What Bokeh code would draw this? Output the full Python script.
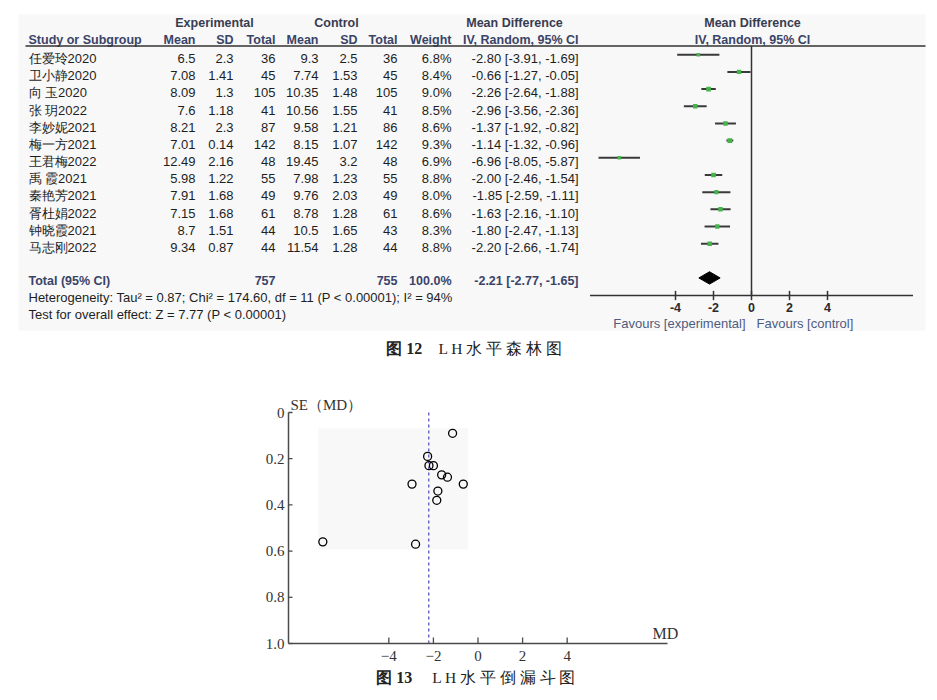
from bokeh.plotting import figure
from bokeh.models import Range1d
from bokeh.layouts import column
from bokeh.embed import file_html
from bokeh.resources import INLINE
from bokeh.core.properties import value

# ---------------- data ----------------
studies = ["任爱玲2020", "卫小静2020", "向 玉2020", "张 玥2022", "李妙妮2021", "梅一方2021",
           "王君梅2022", "禹 霞2021", "秦艳芳2021", "胥杜娟2022", "钟晓霞2021", "马志刚2022"]
exp_mean = [6.5, 7.08, 8.09, 7.6, 8.21, 7.01, 12.49, 5.98, 7.91, 7.15, 8.7, 9.34]
exp_sd = [2.3, 1.41, 1.3, 1.18, 2.3, 0.14, 2.16, 1.22, 1.68, 1.68, 1.51, 0.87]
exp_total = [36, 45, 105, 41, 87, 142, 48, 55, 49, 61, 44, 44]
ctl_mean = [9.3, 7.74, 10.35, 10.56, 9.58, 8.15, 19.45, 7.98, 9.76, 8.78, 10.5, 11.54]
ctl_sd = [2.5, 1.53, 1.48, 1.55, 1.21, 1.07, 3.2, 1.23, 2.03, 1.28, 1.65, 1.28]
ctl_total = [36, 45, 105, 41, 86, 142, 48, 55, 49, 61, 43, 44]
weight = [6.8, 8.4, 9.0, 8.5, 8.6, 9.3, 6.9, 8.8, 8.0, 8.6, 8.3, 8.8]
md = [-2.80, -0.66, -2.26, -2.96, -1.37, -1.14, -6.96, -2.00, -1.85, -1.63, -1.80, -2.20]
ci_low = [-3.91, -1.27, -2.64, -3.56, -1.92, -1.32, -8.05, -2.46, -2.59, -2.16, -2.47, -2.66]
ci_high = [-1.69, -0.05, -1.88, -2.36, -0.82, -0.96, -5.87, -1.54, -1.11, -1.10, -1.13, -1.74]
total_exp = 757
total_ctl = 755
total_weight = 100.0
pooled_md = -2.21
pooled_low = -2.77
pooled_high = -1.65
heterogeneity = "Heterogeneity: Tau² = 0.87; Chi² = 174.60, df = 11 (P < 0.00001); I² = 94%"
overall = "Test for overall effect: Z = 7.77 (P < 0.00001)"
forest_ticks = [-4, -2, 0, 2, 4]
se_md = [0.57, 0.31, 0.19, 0.31, 0.28, 0.09, 0.56, 0.23, 0.38, 0.27, 0.34, 0.23]
funnel_xticks = [-4, -2, 0, 2, 4]
funnel_yticks = [0, 0.2, 0.4, 0.6, 0.8, 1.0]
funnel_ytick_labels = ["0", "0.2", "0.4", "0.6", "0.8", "1.0"]

# ---------------- layout constants ----------------
W = 937
FH = 368
GH = 700 - FH
ROW_PX = 17.18
ROW0_PX = 58.0
ZERO_PX = 751.0
UNIT_PX = 19.0
MK_OFF = 0.22
SANS = value("Liberation Sans")
SERIF = value("Liberation Serif")
DARK = "#1e1e1e"
HEAD = "#383c50"
NAVY = "#3a4468"


def row_of(px):
    return (px - ROW0_PX) / ROW_PX


rows = list(range(len(studies)))
mrows = [r - MK_OFF for r in rows]

p = figure(width=W, height=FH, x_range=Range1d(0, W),
           y_range=Range1d(row_of(FH), row_of(0)),
           x_axis_location=None, y_axis_location=None,
           output_backend="svg", toolbar_location=None,
           min_border=0, outline_line_color=None)
p.grid.visible = False
p.extra_x_ranges = {"md": Range1d(-ZERO_PX / UNIT_PX, (W - ZERO_PX) / UNIT_PX)}
p.background_fill_color = "white"
p.border_fill_color = "white"

# panel background
p.quad(left=18, right=925, top=row_of(14), bottom=row_of(330),
       fill_color="#f8f8f8", line_color=None)

# header
hdr_y1 = row_of(22)
hdr_y2 = row_of(39)
p.text(x=[214, 336, 514, 752], y=[hdr_y1] * 4,
       text=["Experimental", "Control", "Mean Difference", "Mean Difference"],
       text_align="center", text_baseline="middle", text_font=SANS,
       text_font_size="12.5px", text_font_style="bold", text_color=HEAD)
p.text(x=[28], y=[hdr_y2], text=["Study or Subgroup"], text_align="left",
       text_baseline="middle", text_font=SANS, text_font_size="12.5px",
       text_font_style="bold", text_color=NAVY)
col_right = [195, 233, 275, 318, 357, 397, 451, 578]
p.text(x=col_right, y=[hdr_y2] * 8,
       text=["Mean", "SD", "Total", "Mean", "SD", "Total", "Weight", "IV, Random, 95% CI"],
       text_align="right", text_baseline="middle", text_font=SANS,
       text_font_size="12.5px", text_font_style="bold", text_color=NAVY)
p.text(x=[752], y=[hdr_y2], text=["IV, Random, 95% CI"], text_align="center",
       text_baseline="middle", text_font=SANS, text_font_size="12.5px",
       text_font_style="bold", text_color=NAVY)
p.segment(x0=25, y0=row_of(45.5), x1=925, y1=row_of(45.5), line_color="#333333", line_width=1.5)

# study rows
p.text(x=28, y=rows, text=studies, text_align="left", text_baseline="middle",
       text_font=SANS, text_font_size="13px", text_color=DARK)
cols = [
    [str(v) for v in exp_mean], [str(v) for v in exp_sd], [str(v) for v in exp_total],
    [str(v) for v in ctl_mean], [str(v) for v in ctl_sd], [str(v) for v in ctl_total],
    [f"{w:.1f}%" for w in weight],
    [f"{m:.2f} [{lo:.2f}, {hi:.2f}]" for m, lo, hi in zip(md, ci_low, ci_high)],
]
for xr, txt in zip(col_right, cols):
    p.text(x=xr, y=rows, text=txt, text_align="right", text_baseline="middle",
           text_font=SANS, text_font_size="13px", text_color=DARK)

# total row
TROW = row_of(280)
p.text(x=[28], y=[TROW], text=["Total (95% CI)"], text_align="left", text_baseline="middle",
       text_font=SANS, text_font_size="12.5px", text_font_style="bold", text_color=NAVY)
p.text(x=[275, 397, 451, 578], y=[TROW] * 4,
       text=[str(total_exp), str(total_ctl), f"{total_weight:.1f}%",
             f"{pooled_md:.2f} [{pooled_low:.2f}, {pooled_high:.2f}]"],
       text_align="right", text_baseline="middle", text_font=SANS,
       text_font_size="12.5px", text_font_style="bold", text_color=NAVY)
p.text(x=[28, 28], y=[row_of(297), row_of(314)], text=[heterogeneity, overall],
       text_align="left", text_baseline="middle", text_font=SANS,
       text_font_size="13px", text_color=DARK)

# forest graph
AX = row_of(295)
p.segment(x0=0, y0=row_of(45.5), x1=0, y1=AX, x_range_name="md",
          line_color="#333333", line_width=1.5)
p.segment(x0=ci_low, y0=mrows, x1=ci_high, y1=mrows, x_range_name="md",
          line_color="#3a3a3a", line_width=2)
p.scatter(x=md, y=mrows, marker="square", size=[w * 0.52 for w in weight],
          fill_color="#45b54b", line_color=None, x_range_name="md")
DROW = TROW - 0.15
p.patch(x=[pooled_low, pooled_md, pooled_high, pooled_md],
        y=[DROW, DROW - 0.36, DROW, DROW + 0.36], x_range_name="md",
        fill_color="black", line_color="black")
p.segment(x0=-8.5, y0=AX, x1=8.5, y1=AX, x_range_name="md", line_color="#333333", line_width=1.5)
p.segment(x0=forest_ticks, y0=[AX - 0.27] * 5, x1=forest_ticks, y1=[AX + 0.27] * 5,
          x_range_name="md", line_color="#333333", line_width=1.5)
p.text(x=forest_ticks, y=[row_of(306.5)] * 5, text=[str(t) for t in forest_ticks],
       x_range_name="md", text_align="center", text_baseline="middle", text_font=SANS,
       text_font_size="12.5px", text_font_style="bold", text_color="#2a2a2a")
p.text(x=[745], y=[row_of(323)], text=["Favours [experimental]"], text_align="right",
       text_baseline="middle", text_font=SANS, text_font_size="13px", text_color="#4e5c80")
p.text(x=[756], y=[row_of(323)], text=["Favours [control]"], text_align="left",
       text_baseline="middle", text_font=SANS, text_font_size="13px", text_color="#4e5c80")

# caption
p.text(x=[421.7], y=[row_of(348)], text=["图 12"], text_align="right", text_baseline="middle",
       text_font=SERIF, text_font_size="16px", text_font_style="bold", text_color="#222222")
p.text(x=[438], y=[row_of(348)], text=["L H  水 平 森 林 图"], text_align="left",
       text_baseline="middle", text_font=SERIF, text_font_size="15.5px", text_color="#222222")

# ---------------- funnel plot ----------------
FX_LEFT_PX, FX_RIGHT_PX = 288.0, 667.0
FX_MIN, FX_MAX = -8.5, 8.5
FY_TOP_PX, FY_BOT_PX = 44.0, 275.0   # local pixels of SE=0 and SE=1
FUX = (FX_RIGHT_PX - FX_LEFT_PX) / (FX_MAX - FX_MIN)
FUY = (FY_BOT_PX - FY_TOP_PX) / 1.0
fx0 = FX_LEFT_PX - FX_MIN * FUX


def fx(px):
    return (px - fx0) / FUX


def fy(px):
    return (px - FY_TOP_PX) / FUY


f = figure(width=W, height=GH, x_range=Range1d(fx(0), fx(W)), y_range=Range1d(fy(GH), fy(0)),
           x_axis_location=None, y_axis_location=None,
           output_backend="svg", toolbar_location=None, min_border=0, outline_line_color=None)
f.grid.visible = False
f.background_fill_color = "white"
f.border_fill_color = "white"

f.quad(left=min(md) - 0.2, right=max(md) + 0.22, top=min(se_md) - 0.022, bottom=max(se_md) + 0.022,
       fill_color="#f8f8f8", line_color=None)
f.segment(x0=pooled_md, y0=0, x1=pooled_md, y1=1.0, line_color="#6b6bc4",
          line_width=1.5, line_dash="3 3")
f.scatter(x=md, y=se_md, marker="circle", size=8, fill_color=None,
          line_color="black", line_width=1.3)

AXC = "#4a4a4a"
# y axis
f.segment(x0=FX_MIN, y0=0, x1=FX_MIN, y1=1.0, line_color=AXC, line_width=1.5)
f.segment(x0=[FX_MIN] * 6, y0=funnel_yticks, x1=[FX_MIN + 4 / FUX] * 6, y1=funnel_yticks,
          line_color=AXC, line_width=1.3)
f.text(x=[FX_MIN - 4 / FUX] * 6, y=funnel_yticks, text=funnel_ytick_labels,
       text_align="right", text_baseline="middle", text_font=SERIF,
       text_font_size="15px", text_color="#333333")
# x axis
f.segment(x0=FX_MIN, y0=1.0, x1=FX_MAX, y1=1.0, line_color=AXC, line_width=1.5)
f.segment(x0=funnel_xticks, y0=[1.0] * 5, x1=funnel_xticks, y1=[1.0 - 6 / FUY] * 5,
          line_color=AXC, line_width=1.3)
f.text(x=funnel_xticks, y=[fy(287)] * 5,
       text=[(f"\u2212{abs(t)}" if t < 0 else str(t)) for t in funnel_xticks],
       text_align="center", text_baseline="middle", text_font=SERIF,
       text_font_size="15px", text_color="#333333")
# axis titles
f.text(x=[fx(290)], y=[fy(36)], text=["SE（MD）"], text_align="left", text_baseline="middle",
       text_font=SERIF, text_font_size="15px", text_color="#333333")
f.text(x=[fx(665)], y=[fy(265)], text=["MD"], text_align="center", text_baseline="middle",
       text_font=SERIF, text_font_size="16px", text_color="#333333")
# caption
f.text(x=[fx(411.7)], y=[fy(308.7)], text=["图 13"], text_align="right", text_baseline="middle",
       text_font=SERIF, text_font_size="16px", text_font_style="bold", text_color="#222222")
f.text(x=[fx(431.7)], y=[fy(308.7)], text=["L H  水 平 倒 漏 斗 图"], text_align="left",
       text_baseline="middle", text_font=SERIF, text_font_size="15.5px", text_color="#222222")

layout = column(p, f, spacing=0)
open("out.html", "w").write(file_html(layout, INLINE))
